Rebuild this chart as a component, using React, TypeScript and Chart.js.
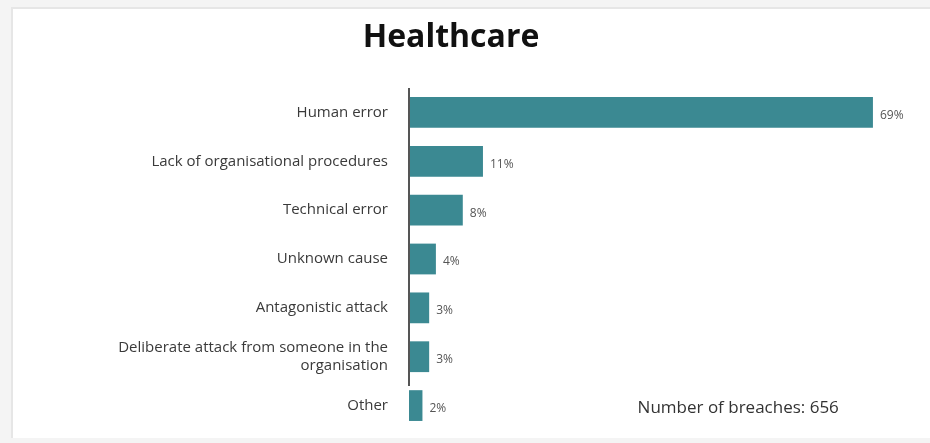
import React, { useEffect, useRef } from "react";
import { Chart, registerables } from "chart.js";

Chart.register(...registerables);

const categories: (string | string[])[] = [
  "Human error",
  "Lack of organisational procedures",
  "Technical error",
  "Unknown cause",
  "Antagonistic attack",
  ["Deliberate attack from someone in the", "organisation"],
  "Other",
];
const shares = [69, 11, 8, 4, 3, 3, 2];
const chartTitle = "Healthcare";
const noteText = "Number of breaches: 656";

const FONT = "'Open Sans', Lato, sans-serif";

const overlay = {
  id: "overlay",
  afterDatasetsDraw(chart: any) {
    const ctx = chart.ctx;
    const meta = chart.getDatasetMeta(0);
    ctx.save();
    // title
    ctx.font = `bold 32px ${FONT}`;
    ctx.fillStyle = "#111111";
    ctx.textAlign = "center";
    ctx.textBaseline = "middle";
    ctx.fillText(chartTitle, 451, 38);
    // value labels
    ctx.font = `12px ${FONT}`;
    ctx.fillStyle = "#555555";
    ctx.textAlign = "left";
    meta.data.forEach((bar: any, i: number) => {
      ctx.fillText(`${shares[i]}%`, bar.x + 7, bar.y + 3);
    });
    // axis line
    const ys = chart.scales.y;
    const xs = chart.scales.x;
    const x0 = xs.getPixelForValue(0);
    ctx.strokeStyle = "#555555";
    ctx.lineWidth = 2;
    ctx.beginPath();
    ctx.moveTo(x0, chart.chartArea.top);
    ctx.lineTo(x0, ys.getPixelForValue(5.6));
    ctx.stroke();
    // note
    ctx.font = `17px ${FONT}`;
    ctx.fillStyle = "#333333";
    ctx.fillText(noteText, xs.getPixelForValue(34), ys.getPixelForValue(6) + 3);
    ctx.restore();
  },
};

export default function App() {
  const ref = useRef<HTMLCanvasElement>(null);
  useEffect(() => {
    if (!ref.current) return;
    const chart = new Chart(ref.current, {
      type: "bar",
      data: {
        labels: categories,
        datasets: [
          {
            data: shares,
            backgroundColor: "#3b8992",
            borderWidth: 0,
            barPercentage: 0.63,
            categoryPercentage: 1,
          },
        ],
      },
      options: {
        indexAxis: "y",
        animation: false,
        responsive: false,
        layout: { padding: { top: 88, bottom: 13, left: 0, right: 10 } },
        plugins: {
          legend: { display: false },
          tooltip: { enabled: false },
          title: { display: false },
        },
        scales: {
          x: {
            display: false,
            min: 0,
            max: 76,
          },
          y: {
            grid: { display: false, drawTicks: false },
            border: { display: false },
            ticks: {
              color: "#3a3a3a",
              padding: 21,
              font: { family: FONT, size: 15 },
            },
            afterFit: (scale: any) => {
              scale.width = 409;
              scale.paddingTop = 0;
              scale.paddingBottom = 0;
            },
          },
        },
      },
      plugins: [overlay],
    });
    return () => chart.destroy();
  }, []);
  return (
    <div style={{ position: "absolute", left: 0, top: 0, width: 930, height: 443, background: "#f4f4f4" }}>
      <div
        style={{
          position: "absolute",
          left: 11,
          top: 7,
          width: 919,
          height: 431,
          background: "#ffffff",
          borderTop: "2px solid #e6e6e6",
          borderLeft: "2px solid #e6e6e6",
          boxSizing: "border-box",
        }}
      />
      <canvas ref={ref} width={930} height={443} style={{ position: "absolute", left: 0, top: 0 }} />
    </div>
  );
}
